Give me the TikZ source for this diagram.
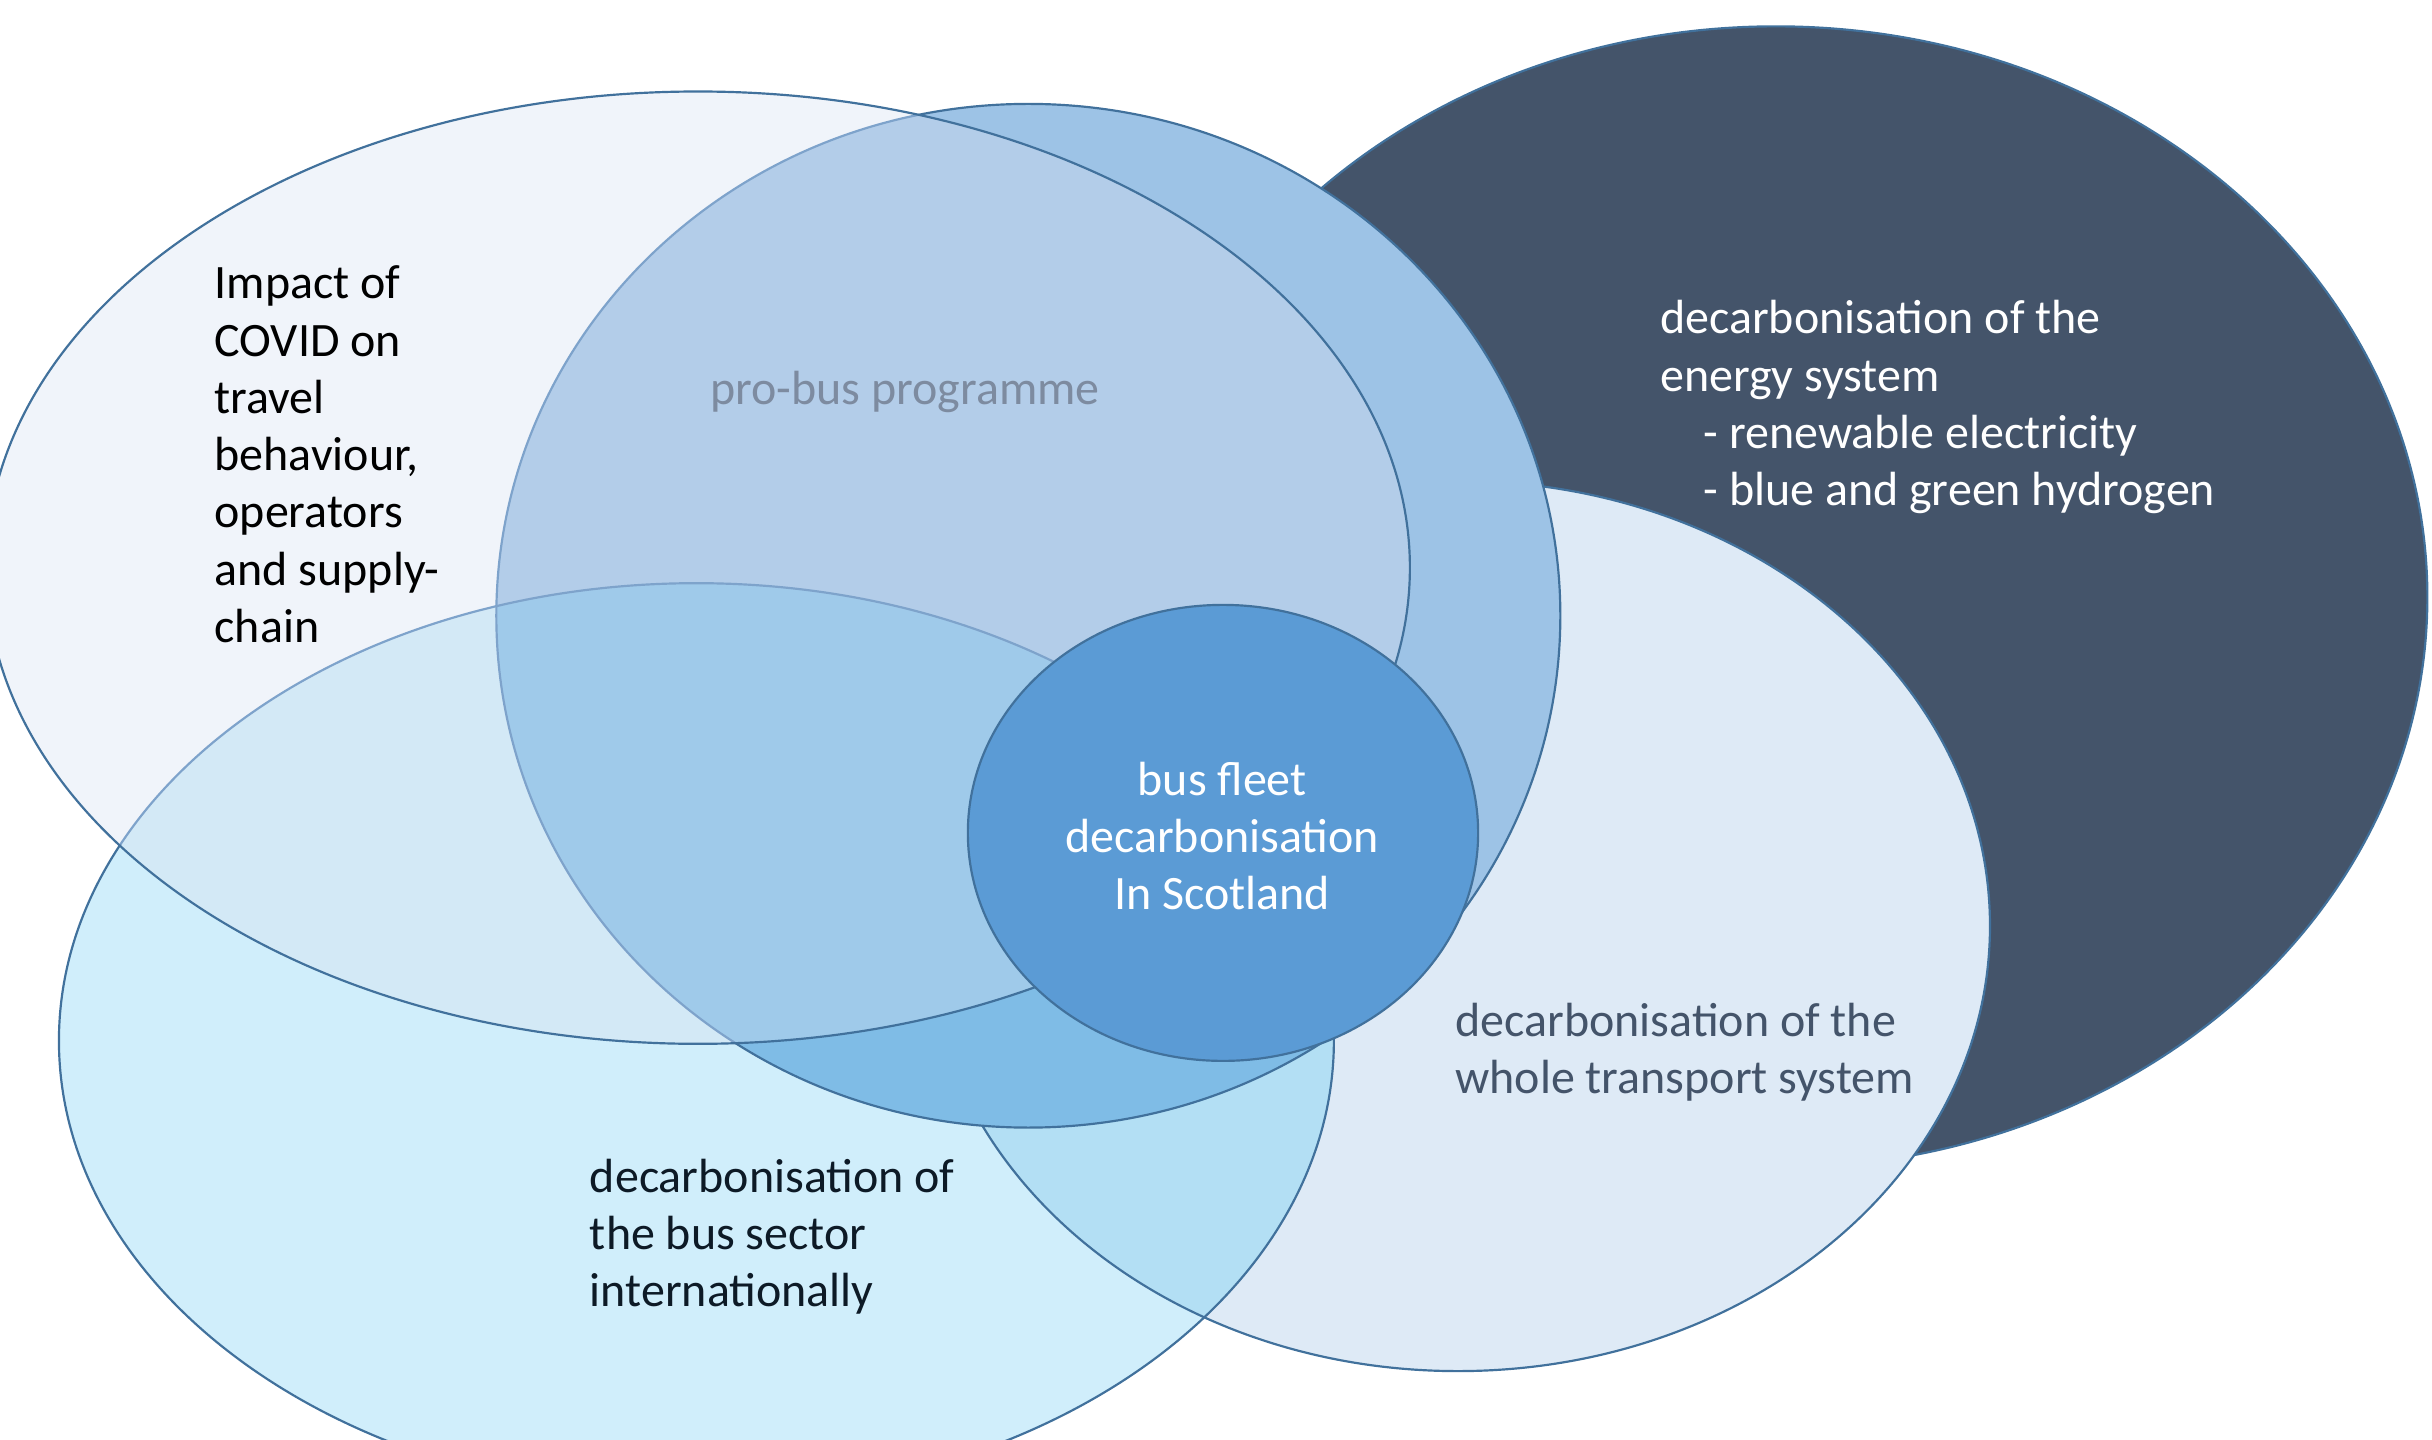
\documentclass[tikz,border=0pt]{standalone}
\usepackage{fontspec}
\setmainfont{Carlito}
\usetikzlibrary{positioning}

\definecolor{ringline}{HTML}{41719C}
\definecolor{ringfaint}{HTML}{7EA3CB}
\definecolor{energyfill}{HTML}{44546A}
\definecolor{transportfill}{HTML}{DEEAF6}
\definecolor{intlfill}{HTML}{D0EEFB}
\definecolor{intltransport}{HTML}{B3DFF4}
\definecolor{probusfill}{HTML}{9DC3E6}
\definecolor{probusintl}{HTML}{7FBCE6}
\definecolor{covidfill}{HTML}{F0F4FA}
\definecolor{covidprobus}{HTML}{B3CDE9}
\definecolor{covidintl}{HTML}{D3E9F6}
\definecolor{covidboth}{HTML}{9FCAEA}
\definecolor{fleetfill}{HTML}{5B9BD5}
\definecolor{probustext}{HTML}{7D8BA0}
\definecolor{slatetext}{HTML}{44546A}
\definecolor{inktext}{HTML}{0D1A26}

% the six ellipses
\newcommand{\energypath}{(22.90,10.86) ellipse [x radius=8.40, y radius=7.36]}
\newcommand{\transportpath}{(18.80,6.62) ellipse [x radius=6.86, y radius=5.74]}
\newcommand{\intlpath}{(8.98,5.14) ellipse [x radius=8.22, y radius=5.90]}
\newcommand{\probuspath}{(13.26,10.62) ellipse [x radius=6.86, y radius=6.60]}
\newcommand{\covidpath}{(9.00,11.24) ellipse [x radius=9.18, y radius=6.14]}
\newcommand{\fleetpath}{(15.77,7.82) ellipse [x radius=3.29, y radius=2.94]}

\begin{document}
\begin{tikzpicture}[
  ring/.style={draw=ringline, line width=0.8pt},
  faintring/.style={draw=ringfaint, line width=0.8pt},
  label/.style={inner sep=0pt, font=\fontsize{17.6}{21}\selectfont}
]
\useasboundingbox (0,0) rectangle (31.36,18.56);
\clip (0,0) rectangle (31.36,18.56);

% energy system, at the back
\fill[energyfill] \energypath;
\draw[ring] \energypath;

% whole transport system
\fill[transportfill] \transportpath;

% bus sector internationally
\fill[intlfill] \intlpath;
\begin{scope}
\clip \intlpath;
\fill[intltransport] \transportpath;
\end{scope}
\draw[ring] \transportpath;

% pro-bus programme
\fill[probusfill] \probuspath;
\begin{scope}
\clip \probuspath;
\fill[probusintl] \intlpath;
\end{scope}
\draw[ring] \intlpath;
\draw[ring] \probuspath;

% COVID
\fill[covidfill] \covidpath;
\begin{scope}
\clip \covidpath;
\fill[covidprobus] \probuspath;
\fill[covidintl] \intlpath;
\clip \probuspath;
\fill[covidboth] \intlpath;
\end{scope}
\begin{scope}
\clip \covidpath;
\draw[faintring] \intlpath;
\draw[faintring] \probuspath;
\end{scope}
\draw[ring] \covidpath;

% bus fleet, on top
\fill[fleetfill] \fleetpath;
\draw[ring] \fleetpath;

\node[label, anchor=west, align=left, text=black] (covidtxt) at (2.76,12.70)
  {Impact of\\COVID on\\travel\\behaviour,\\operators\\and supply-\\chain};
\node[label, text=probustext] (probustxt) at (11.67,13.50) {pro-bus programme};
\node[label, anchor=west, align=left, text=white] (energytxt) at (21.40,13.31)
  {decarbonisation of the\\energy system\\\hspace*{0.56cm}- renewable electricity\\\hspace*{0.56cm}- blue and green hydrogen};
\node[label, align=center, text=white] (fleettxt) at (15.76,7.78)
  {bus fleet\\decarbonisation\\In Scotland};
\node[label, anchor=west, align=left, text=slatetext] (transporttxt) at (18.76,4.99)
  {decarbonisation of the\\whole transport system};
\node[label, anchor=west, align=left, text=inktext] (intltxt) at (7.60,2.61)
  {decarbonisation of\\the bus sector\\internationally};
\end{tikzpicture}
\end{document}
